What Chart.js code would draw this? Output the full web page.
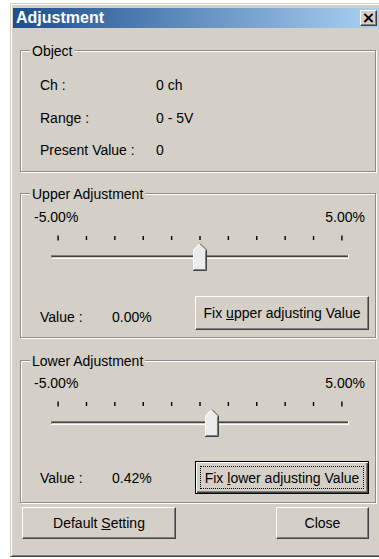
<!DOCTYPE html>
<html>
<head>
<meta charset="utf-8">
<title>Adjustment</title>
<script src="https://cdn.jsdelivr.net/npm/chart.js@4.4.1/dist/chart.umd.min.js"></script>
<style>
  html { overflow: hidden; width: 379px; height: 559px; }
  body { margin: 0; background: #fff; width: 379px; height: 559px; overflow: hidden; position: relative;
         font: 14px "Liberation Sans", Arial, sans-serif; color: #000; }
  .abs { position: absolute; box-sizing: border-box; }
  .t { position: absolute; line-height: 16px; white-space: nowrap; }
  #dlg { left: 10px; top: 3px; width: 369px; height: 554px; background: #d4d0c8;
         border-left: 1px solid #d4d0c8; border-top: 1px solid #d4d0c8; border-bottom: 1px solid #404040;
         box-shadow: inset 1px 1px 0 #fff, inset 0 -1px 0 #808080; }
  #caption { left: 13px; top: 8px; width: 366px; height: 20px;
             background: linear-gradient(to right, #1d4f8c, #a9d1f3); }
  #caption .t { left: 3px; top: 1px; color: #fff; font-weight: bold; font-size: 16px; line-height: 18px; }
  #closeBox { left: 360px; top: 10px; width: 17px; height: 16px; background: #d4d0c8;
              border: 1px solid; border-color: #fff #404040 #404040 #fff;
              box-shadow: inset -1px -1px 0 #808080; text-align: center;
              font: bold 16px "DejaVu Sans", sans-serif; line-height: 13px; }
  .grp { position: absolute; box-sizing: border-box; border: 1px solid #8c8c8c;
         box-shadow: 1px 1px 0 #fff, inset 1px 1px 0 #fff; }
  .lg { background: #d4d0c8; padding: 0 2px; }
  .btn { position: absolute; box-sizing: border-box; background: #d4d0c8;
         border: 1px solid; border-color: #fff #404040 #404040 #fff;
         box-shadow: inset -1px -1px 0 #808080;
         display: flex; align-items: center; justify-content: center; line-height: 16px; white-space: nowrap; }
  .btn.def { border: 1px solid #000;
             box-shadow: inset 1px 1px 0 #fff, inset -1px -1px 0 #404040, inset -2px -2px 0 #808080; }
  .focus { position: absolute; left: 4px; top: 4px; right: 4px; bottom: 4px; border: 1px dotted #000; }
  canvas { position: absolute; }
</style>
</head>
<body>
<div id="dlg" class="abs"></div>
<div id="caption" class="abs"><span class="t">Adjustment</span></div>
<div id="closeBox" class="abs">×</div>

<!-- Object group -->
<div class="grp" style="left:20px;top:50px;width:356px;height:122px"></div>
<span class="t lg" style="left:30px;top:43px">Object</span>
<div id="objectRows"></div>

<!-- Upper group -->
<div class="grp" style="left:20px;top:193px;width:356px;height:145px"></div>
<span class="t lg" style="left:30px;top:186px">Upper Adjustment</span>
<span class="t" id="upMin" style="left:34px;top:209px"></span>
<span class="t" id="upMax" style="right:14px;top:209px"></span>
<canvas id="upperSlider" width="298" height="42" style="left:51px;top:232px"></canvas>
<span class="t" style="left:40px;top:309px">Value :</span>
<span class="t" id="upVal" style="left:112px;top:309px"></span>
<div class="btn" style="left:195px;top:296px;width:174px;height:34px">Fix&nbsp;<u>u</u>pper adjusting Value</div>

<!-- Lower group -->
<div class="grp" style="left:20px;top:360px;width:356px;height:143px"></div>
<span class="t lg" style="left:30px;top:353px">Lower Adjustment</span>
<span class="t" id="loMin" style="left:34px;top:375px"></span>
<span class="t" id="loMax" style="right:14px;top:375px"></span>
<canvas id="lowerSlider" width="298" height="42" style="left:51px;top:398px"></canvas>
<span class="t" style="left:40px;top:470px">Value :</span>
<span class="t" id="loVal" style="left:112px;top:470px"></span>
<div class="btn def" style="left:195px;top:461px;width:174px;height:33px"><span class="focus"></span>Fix&nbsp;<u>l</u>ower adjusting Value</div>

<div class="btn" style="left:22px;top:507px;width:154px;height:32px">Default&nbsp;<u>S</u>etting</div>
<div class="btn" style="left:276px;top:507px;width:93px;height:32px">Close</div>

<script>
// object info
const objectLabels = ['Ch :', 'Range :', 'Present Value :'];
const objectValues = ['0 ch', '0 - 5V', '0'];
const objectTops = [77, 110, 142];

// slider scale, in percent
const tickValues = [-5, -4, -3, -2, -1, 0, 1, 2, 3, 4, 5];
const rangeLabels = ['-5.00%', '5.00%'];
const upperValue = 0.00;
const lowerValue = 0.42;

// rows inside a slider canvas (pixels from its top)
const ROWS = 42, TICK_ROW = 6, TRACK_ROW = 23, THUMB_ROW = 25;

const rows = document.getElementById('objectRows');
objectLabels.forEach((lab, i) => {
    rows.insertAdjacentHTML('beforeend',
        `<span class="t" style="left:40px;top:${objectTops[i]}px">${lab}</span>` +
        `<span class="t" style="left:156px;top:${objectTops[i]}px">${objectValues[i]}</span>`);
});
document.getElementById('upMin').textContent = rangeLabels[0];
document.getElementById('upMax').textContent = rangeLabels[1];
document.getElementById('loMin').textContent = rangeLabels[0];
document.getElementById('loMax').textContent = rangeLabels[1];
document.getElementById('upVal').textContent = upperValue.toFixed(2) + '%';
document.getElementById('loVal').textContent = lowerValue.toFixed(2) + '%';

function makeThumb() {
    const c = document.createElement('canvas');
    c.width = 14;
    c.height = 28;
    const g = c.getContext('2d');
    g.fillStyle = '#ececec';
    g.beginPath();
    g.moveTo(0, 7); g.lineTo(7, 0); g.lineTo(14, 7); g.lineTo(14, 28); g.lineTo(0, 28);
    g.closePath();
    g.fill();
    g.lineWidth = 1;
    g.strokeStyle = '#fff';
    g.beginPath();
    g.moveTo(0.5, 27); g.lineTo(0.5, 7); g.lineTo(7, 0.5);
    g.stroke();
    g.strokeStyle = '#404040';
    g.beginPath();
    g.moveTo(7, 0.5); g.lineTo(13.5, 7); g.lineTo(13.5, 27.5); g.lineTo(0, 27.5);
    g.stroke();
    g.strokeStyle = '#808080';
    g.beginPath();
    g.moveTo(12.5, 7.5); g.lineTo(12.5, 26.5); g.lineTo(1, 26.5);
    g.stroke();
    return c;
}
const thumbImage = makeThumb();

const trackPlugin = {
    id: 'track',
    beforeDatasetsDraw(chart) {
        const {ctx, chartArea: a, scales: {y}} = chart;
        const top = Math.round(y.getPixelForValue(TRACK_ROW));
        const shades = ['#808080', '#404040', '#d4d0c8', '#ffffff'];
        ctx.save();
        shades.forEach((c, i) => {
            ctx.fillStyle = c;
            ctx.fillRect(a.left, top + i, a.right - a.left, 1);
        });
        ctx.fillStyle = '#808080';
        ctx.fillRect(a.left, top, 1, 3);
        ctx.fillStyle = '#ffffff';
        ctx.fillRect(a.right - 1, top, 1, 4);
        ctx.restore();
    }
};

function buildSlider(id, value) {
    const first = tickValues[0], last = tickValues[tickValues.length - 1];
    return new Chart(document.getElementById(id), {
        type: 'scatter',
        data: {
            datasets: [{
                label: 'ticks',
                data: tickValues.map((v) => ({x: v, y: TICK_ROW})),
                pointStyle: 'line',
                pointRotation: 90,
                pointRadius: (c) => (c.raw && (c.raw.x === first || c.raw.x === last)) ? 2.5 : 2,
                pointBorderColor: '#000',
                pointBorderWidth: 1.4,
                clip: false
            },
            {
                label: 'thumb',
                data: [{x: value, y: THUMB_ROW}],
                pointStyle: thumbImage,
                pointRadius: 8,
                clip: false
            }]
        },
        options: {
            responsive: false,
            animation: false,
            events: [],
            layout: {padding: 0, autoPadding: false},
            plugins: {legend: {display: false}, tooltip: {enabled: false}},
            scales: {
                x: {type: 'linear', display: false, min: -5.25, max: 5.25},
                y: {type: 'linear', display: false, min: 0, max: ROWS, reverse: true}
            }
        },
        plugins: [trackPlugin]
    });
}

buildSlider('upperSlider', upperValue);
buildSlider('lowerSlider', lowerValue);
</script>
</body>
</html>
